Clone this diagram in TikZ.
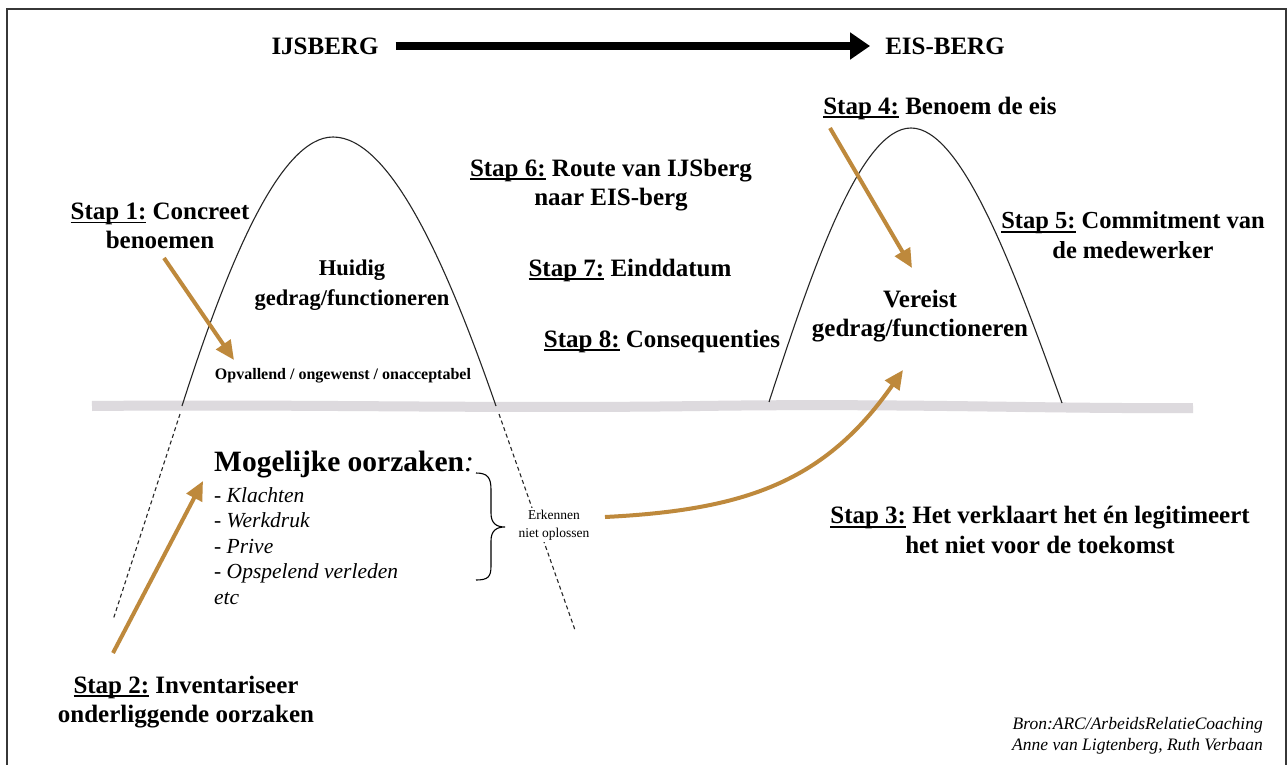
\documentclass[tikz,border=0pt]{standalone}
\usepackage{fontspec}
\setmainfont{Liberation Serif}
\usetikzlibrary{arrows.meta}
\definecolor{gold}{RGB}{190,137,60}
\definecolor{water}{RGB}{221,218,222}
\definecolor{frame}{RGB}{55,55,55}
\newcommand{\stp}[1]{\setbox0\hbox{#1}\rlap{\rule[-0.16em]{\wd0}{0.075em}}\box0\relax}
\begin{document}
\begin{tikzpicture}[x=1pt,y=-1pt,
  lbl/.style={inner sep=0pt, align=center, font=\fontsize{25}{29.5}\selectfont\bfseries},
  garrow/.style={draw=gold, line width=4pt, -{Triangle[length=19pt,width=17pt]}},
  mount/.style={draw=black!85, line width=1.1pt},
  dmount/.style={draw=black!85, line width=1.1pt, dash pattern=on 4pt off 3pt}]
\useasboundingbox (0,0) rectangle (1288,765);
\fill[white] (0,0) rectangle (1288,765);
% frame
\draw[frame, line width=2.2pt] (7,780) -- (7,9) -- (1286,9) -- (1286,780);

% water line
\draw[water, line width=10pt] (92,406) .. controls (300,404) and (500,409) .. (700,406) .. controls (900,403) and (1050,409) .. (1193,408);

% left mountain
\draw[mount] (182,406) .. controls (228,262) and (280,137) .. (333,137) .. controls (390,137) and (446,262) .. (496,406);
\draw[dmount] (180,414) -- (113,620);
\draw[dmount] (499,414) -- (575,630);
% right mountain
\draw[mount] (769,402) .. controls (812,270) and (860,128) .. (911,128) .. controls (962,128) and (1014,270) .. (1062,403);

% title
\node[lbl] (ij) at (325,46) {IJSBERG};
\node[lbl] (eis) at (945,46) {EIS-BERG};
\draw[black, line width=8pt, -{Triangle[length=20pt,width=26pt]}, shorten <=17pt, shorten >=15pt] (ij.east) -- (eis.west);

% labels
\node[lbl] (s4) at (940,108) {\stp{Stap 4:} Benoem de eis};
\node[lbl] (s6) at (611,185) {\stp{Stap 6:} Route van IJSberg\\naar EIS-berg};
\node[lbl] (s1) at (160,226) {\stp{Stap 1:} Concreet\\benoemen};
\node[lbl, font=\fontsize{24.5}{29.5}\selectfont\bfseries] (s5) at (1133,235) {\stp{Stap 5:} Commitment van\\de medewerker};
\node[lbl, font=\fontsize{22.5}{30}\selectfont\bfseries] (huidig) at (352,285) {Huidig\\gedrag/functioneren};
\node[lbl] (s7) at (630,270) {\stp{Stap 7:} Einddatum};
\node[lbl] (vereist) at (920,316) {Vereist\\gedrag/functioneren};
\node[lbl] (s8) at (662,341) {\stp{Stap 8:} Consequenties};
\node[inner sep=0pt, font=\fontsize{16}{18}\selectfont\bfseries] (opv) at (343,376) {Opvallend / ongewenst / onacceptabel};

\node[inner sep=0pt, anchor=west, font=\fontsize{29.5}{32}\selectfont\bfseries] (mog) at (214,465) {Mogelijke oorzaken\textmd{\itshape :}};
\node[inner sep=0pt, anchor=west, align=left, font=\fontsize{21.5}{25.5}\selectfont\itshape] (list) at (214,546) {- Klachten\\- Werkdruk\\- Prive\\- Opspelend verleden\\etc};

% brace
\draw[black, line width=1.1pt] (476,473) .. controls (488,473) and (491,478) .. (491,490) -- (491,513) .. controls (491,523) and (496,527) .. (505,527)
  .. controls (496,527) and (491,531) .. (491,541) -- (491,566) .. controls (491,577) and (488,580) .. (476,580);
\node[inner sep=2pt, fill=white, align=center, font=\fontsize{13.5}{18}\selectfont] (erk) at (554,525) {Erkennen\\niet oplossen};

\node[lbl] (s3) at (1040,530) {\stp{Stap 3:} Het verklaart het én legitimeert\\het niet voor de toekomst};
\node[lbl] (s2) at (186,702) {\stp{Stap 2:} Inventariseer\\onderliggende oorzaken};

\node[inner sep=0pt, anchor=east, align=right, font=\fontsize{17.5}{21}\selectfont\itshape] (bron) at (1263,736) {Bron:ARC/ArbeidsRelatieCoaching\\Anne van Ligtenberg,  Ruth Verbaan};

% gold arrows
\coordinate (a1s) at (164,258);
\coordinate (a1e) at (234,360);
\draw[garrow] (a1s) -- (a1e);
\coordinate (a4s) at (830,128);
\coordinate (a4e) at (912,268);
\draw[garrow] (a4s) -- (a4e);
\coordinate (a2s) at (113,653);
\coordinate (a2e) at (203,481);
\draw[garrow] (a2s) -- (a2e);
\coordinate (a3s) at (605,517);
\coordinate (a3e) at (903,370);
\draw[garrow] (a3s) .. controls (745,510) and (825,482) .. (a3e);
\end{tikzpicture}
\end{document}
